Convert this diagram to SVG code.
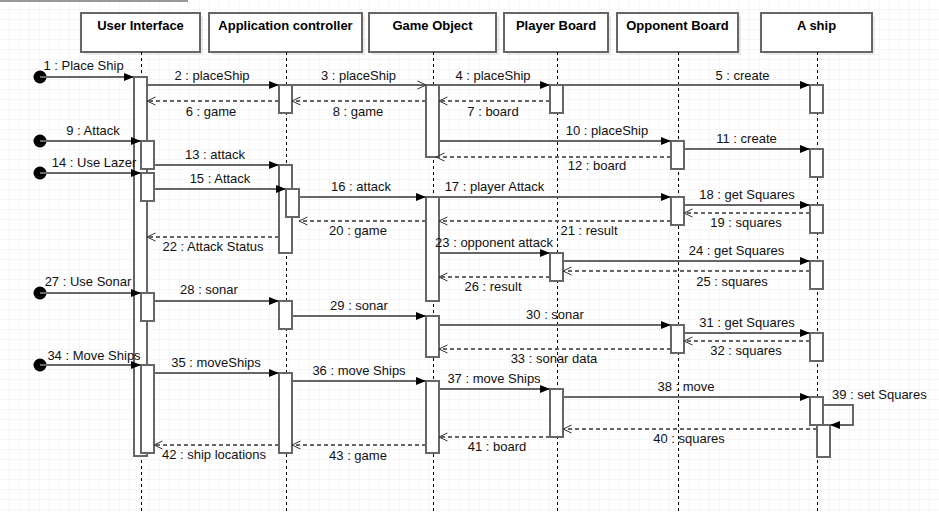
<svg xmlns="http://www.w3.org/2000/svg" width="939" height="512" viewBox="0 0 939 512">
<defs>
<pattern id="grid" width="10" height="10" patternUnits="userSpaceOnUse">
<path d="M10 0 V10 M0 10 H10" fill="none" stroke="#ececec" stroke-width="1"/>
</pattern>
<marker id="fa" viewBox="0 0 10 8" markerWidth="10" markerHeight="8" refX="10" refY="4" orient="auto" markerUnits="userSpaceOnUse">
<path d="M0,0 L10,4 L0,8 z" fill="#000"/>
</marker>
<marker id="oa" viewBox="0 0 10 10" markerWidth="10" markerHeight="10" refX="9.5" refY="5" orient="auto" markerUnits="userSpaceOnUse">
<path d="M1,1 L9.5,5 L1,9" fill="none" stroke="#333" stroke-width="1"/>
</marker>
</defs>
<style>
.hdr{fill:#fff;stroke:#666;stroke-width:2}
.shd{fill:#000;opacity:0.08}
.ht{font-family:"Liberation Sans",Arial,sans-serif;font-size:13px;font-weight:bold;fill:#000;text-anchor:middle}
.life{stroke:#000;stroke-width:1;stroke-dasharray:3 3;fill:none}
.act{fill:#fff;stroke:#666;stroke-width:2}
.msg{stroke:#666;stroke-width:2;fill:none;marker-end:url(#fa)}
.msgo{stroke:#666;stroke-width:2;fill:none;marker-end:url(#oa)}
.ret{stroke:#666;stroke-width:2;fill:none;stroke-dasharray:4 3;marker-end:url(#oa)}
.lbl{font-family:"Liberation Sans",Arial,sans-serif;font-size:13px;fill:#111;text-anchor:middle}
.start{fill:#000}
</style>
<rect width="939" height="512" fill="#fff"/>
<rect width="939" height="512" fill="url(#grid)"/>
<line x1="0" y1="1" x2="188" y2="1" stroke="#777" stroke-width="1.5"/>

<g id="user-interface">
<rect class="shd" x="84" y="16" width="119" height="39"/>
<rect class="hdr" x="81" y="13" width="119" height="39"/>
<text class="ht" x="140.5" y="30">User Interface</text>
<line class="life" x1="141.5" y1="52" x2="141.5" y2="512"/>
<rect class="act" x="134" y="77" width="13" height="379"/>
<rect class="act" x="141" y="141" width="13" height="28"/>
<rect class="act" x="141" y="173" width="13" height="28"/>
<rect class="act" x="141" y="293" width="13" height="28"/>
<rect class="act" x="141" y="365" width="13" height="88"/>
</g>

<g id="application-controller">
<rect class="shd" x="212" y="16" width="153" height="39"/>
<rect class="hdr" x="209" y="13" width="153" height="39"/>
<text class="ht" x="285.5" y="30">Application controller</text>
<line class="life" x1="286.5" y1="52" x2="286.5" y2="512"/>
<rect class="act" x="279" y="85" width="13" height="28"/>
<rect class="act" x="279" y="165" width="13" height="88"/>
<rect class="act" x="286" y="189" width="13" height="28"/>
<rect class="act" x="279" y="301" width="13" height="28"/>
<rect class="act" x="279" y="373" width="13" height="80"/>
</g>

<g id="game-object">
<rect class="shd" x="372" y="16" width="127" height="39"/>
<rect class="hdr" x="369" y="13" width="127" height="39"/>
<text class="ht" x="432.5" y="30">Game Object</text>
<line class="life" x1="433.5" y1="52" x2="433.5" y2="512"/>
<rect class="act" x="426" y="85" width="13" height="72"/>
<rect class="act" x="426" y="197" width="13" height="104"/>
<rect class="act" x="426" y="316" width="13" height="41"/>
<rect class="act" x="426" y="381" width="13" height="72"/>
</g>

<g id="player-board">
<rect class="shd" x="507" y="16" width="104" height="39"/>
<rect class="hdr" x="504" y="13" width="104" height="39"/>
<text class="ht" x="556" y="30">Player Board</text>
<line class="life" x1="557.5" y1="52" x2="557.5" y2="512"/>
<rect class="act" x="550" y="85" width="13" height="28"/>
<rect class="act" x="550" y="253" width="13" height="28"/>
<rect class="act" x="550" y="389" width="13" height="48"/>
</g>

<g id="opponent-board">
<rect class="shd" x="620" y="16" width="121" height="39"/>
<rect class="hdr" x="617" y="13" width="121" height="39"/>
<text class="ht" x="677.5" y="30">Opponent Board</text>
<line class="life" x1="678.5" y1="52" x2="678.5" y2="512"/>
<rect class="act" x="671" y="141" width="13" height="28"/>
<rect class="act" x="671" y="197" width="13" height="28"/>
<rect class="act" x="671" y="325" width="13" height="28"/>
</g>

<g id="a-ship">
<rect class="shd" x="764" y="16" width="111" height="39"/>
<rect class="hdr" x="761" y="13" width="111" height="39"/>
<text class="ht" x="816.5" y="30">A ship</text>
<line class="life" x1="817.5" y1="52" x2="817.5" y2="512"/>
<rect class="act" x="810" y="85" width="13" height="28"/>
<rect class="act" x="810" y="149" width="13" height="28"/>
<rect class="act" x="810" y="205" width="13" height="28"/>
<rect class="act" x="810" y="261" width="13" height="28"/>
<rect class="act" x="810" y="333" width="13" height="28"/>
<rect class="act" x="810" y="397" width="13" height="28"/>
<rect class="act" x="817" y="425" width="13" height="32"/>
</g>

<g id="connectors">
<circle class="start" cx="40" cy="77" r="6.5"/>
<circle class="start" cx="40" cy="141" r="6.5"/>
<circle class="start" cx="40" cy="173" r="6.5"/>
<circle class="start" cx="40" cy="293" r="6.5"/>
<circle class="start" cx="40" cy="365" r="6.5"/>

<line class="msg" x1="40" y1="77" x2="134" y2="77"/>
<line class="msg" x1="147" y1="85" x2="279" y2="85"/>
<line class="msgo" x1="292" y1="85" x2="426" y2="85"/>
<line class="msg" x1="439" y1="85" x2="550" y2="85"/>
<line class="msg" x1="563" y1="85" x2="810" y2="85"/>
<line class="ret" x1="279" y1="101" x2="147" y2="101"/>
<line class="ret" x1="550" y1="101" x2="439" y2="101"/>
<line class="ret" x1="426" y1="101" x2="292" y2="101"/>

<line class="msg" x1="40" y1="141" x2="141" y2="141"/>
<line class="msg" x1="439" y1="141" x2="671" y2="141"/>
<line class="msg" x1="684" y1="149" x2="810" y2="149"/>
<line class="ret" x1="671" y1="157" x2="436" y2="157"/>
<line class="msg" x1="154" y1="165" x2="279" y2="165"/>
<line class="msg" x1="40" y1="173" x2="141" y2="173"/>
<line class="msg" x1="154" y1="189" x2="286" y2="189"/>
<line class="msg" x1="299" y1="197" x2="426" y2="197"/>
<line class="msg" x1="439" y1="197" x2="671" y2="197"/>
<line class="msg" x1="684" y1="205" x2="810" y2="205"/>
<line class="ret" x1="810" y1="213" x2="684" y2="213"/>
<line class="ret" x1="426" y1="221" x2="299" y2="221"/>
<line class="ret" x1="671" y1="221" x2="439" y2="221"/>
<line class="ret" x1="279" y1="237" x2="147" y2="237"/>
<line class="msg" x1="439" y1="253" x2="550" y2="253"/>
<line class="msg" x1="563" y1="261" x2="810" y2="261"/>
<line class="ret" x1="810" y1="271" x2="563" y2="271"/>
<line class="ret" x1="550" y1="277" x2="439" y2="277"/>

<line class="msg" x1="40" y1="293" x2="141" y2="293"/>
<line class="msg" x1="154" y1="301" x2="279" y2="301"/>
<line class="msg" x1="292" y1="316" x2="426" y2="316"/>
<line class="msg" x1="439" y1="325" x2="671" y2="325"/>
<line class="msg" x1="684" y1="333" x2="810" y2="333"/>
<line class="ret" x1="810" y1="341" x2="684" y2="341"/>
<line class="ret" x1="671" y1="349" x2="439" y2="349"/>

<line class="msg" x1="40" y1="365" x2="141" y2="365"/>
<line class="msg" x1="154" y1="373" x2="279" y2="373"/>
<line class="msg" x1="292" y1="381" x2="426" y2="381"/>
<line class="msg" x1="439" y1="389" x2="550" y2="389"/>
<line class="msg" x1="563" y1="397" x2="810" y2="397"/>
<path class="msg" d="M823,405 H853 V425 H830"/>
<line class="ret" x1="817" y1="429" x2="563" y2="429"/>
<line class="ret" x1="550" y1="437" x2="439" y2="437"/>
<line class="ret" x1="279" y1="445" x2="154" y2="445"/>
<line class="ret" x1="426" y1="445" x2="292" y2="445"/>

<text class="lbl" x="83.5" y="70">1 : Place Ship</text>
<text class="lbl" x="212" y="79.5">2 : placeShip</text>
<text class="lbl" x="358.5" y="79.5">3 : placeShip</text>
<text class="lbl" x="493" y="79.5">4 : placeShip</text>
<text class="lbl" x="742.5" y="79.5">5 : create</text>
<text class="lbl" x="211" y="115.5">6 : game</text>
<text class="lbl" x="493" y="115.5">7 : board</text>
<text class="lbl" x="358" y="115.5">8 : game</text>
<text class="lbl" x="93" y="135">9 : Attack</text>
<text class="lbl" x="607" y="135">10 : placeShip</text>
<text class="lbl" x="746.5" y="143">11 : create</text>
<text class="lbl" x="597" y="170">12 : board</text>
<text class="lbl" x="215" y="159">13 : attack</text>
<text class="lbl" x="94" y="167">14 : Use Lazer</text>
<text class="lbl" x="220" y="183">15 : Attack</text>
<text class="lbl" x="361" y="191">16 : attack</text>
<text class="lbl" x="494.5" y="191">17 : player Attack</text>
<text class="lbl" x="747" y="199">18 : get Squares</text>
<text class="lbl" x="746" y="227">19 : squares</text>
<text class="lbl" x="358" y="235">20 : game</text>
<text class="lbl" x="589" y="235">21 : result</text>
<text class="lbl" x="213" y="251">22 : Attack Status</text>
<text class="lbl" x="494" y="247">23 : opponent attack</text>
<text class="lbl" x="736.5" y="255">24 : get Squares</text>
<text class="lbl" x="732" y="286">25 : squares</text>
<text class="lbl" x="493" y="291">26 : result</text>
<text class="lbl" x="88" y="286">27 : Use Sonar</text>
<text class="lbl" x="209" y="294">28 : sonar</text>
<text class="lbl" x="359" y="310">29 : sonar</text>
<text class="lbl" x="555" y="319">30 : sonar</text>
<text class="lbl" x="747" y="327">31 : get Squares</text>
<text class="lbl" x="746" y="355">32 : squares</text>
<text class="lbl" x="554" y="363">33 : sonar data</text>
<text class="lbl" x="94" y="359.5">34 : Move Ships</text>
<text class="lbl" x="216" y="367">35 : moveShips</text>
<text class="lbl" x="359" y="375">36 : move Ships</text>
<text class="lbl" x="494" y="383">37 : move Ships</text>
<text class="lbl" x="686" y="391">38 : move</text>
<text class="lbl" x="832" y="399" style="text-anchor:start">39 : set Squares</text>
<text class="lbl" x="689" y="443">40 : squares</text>
<text class="lbl" x="497" y="451">41 : board</text>
<text class="lbl" x="214" y="459">42 : ship locations</text>
<text class="lbl" x="358" y="459.5">43 : game</text>
</g>
</svg>
